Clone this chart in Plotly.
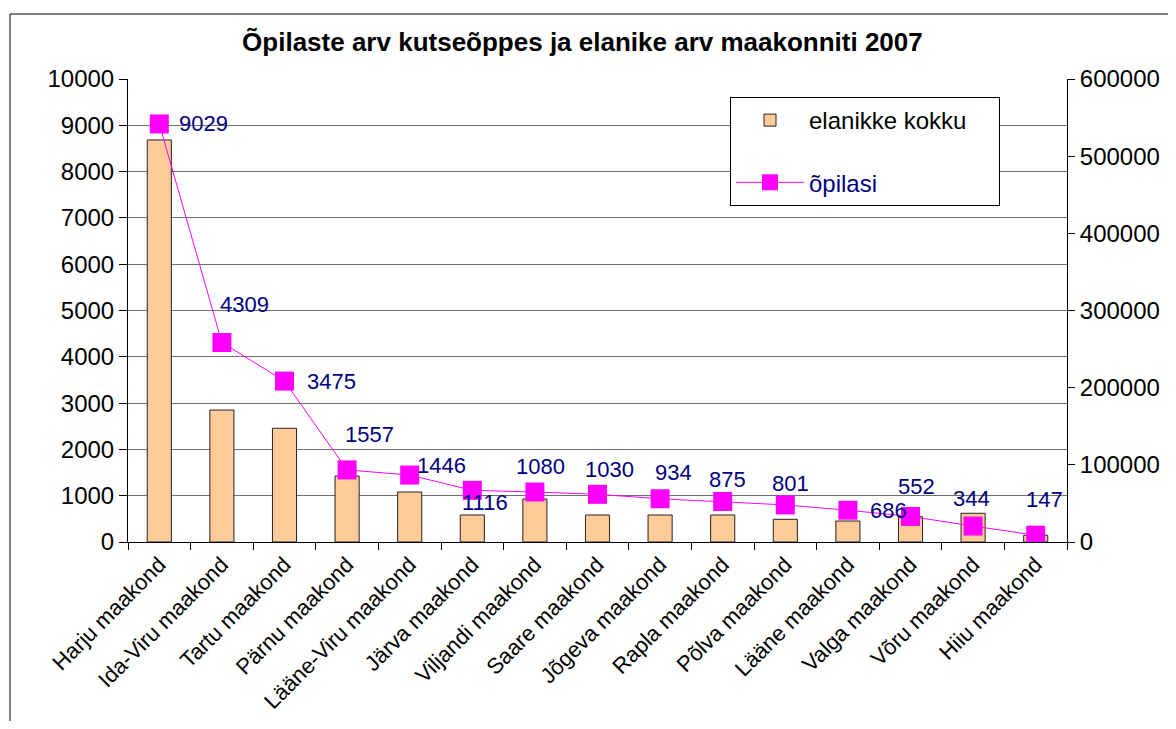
import plotly.graph_objects as go

counties = ["Harju maakond", "Ida-Viru maakond", "Tartu maakond", "Pärnu maakond",
            "Lääne-Viru maakond", "Järva maakond", "Viljandi maakond", "Saare maakond",
            "Jõgeva maakond", "Rapla maakond", "Põlva maakond", "Lääne maakond",
            "Valga maakond", "Võru maakond", "Hiiu maakond"]
residents = [521000, 171000, 147400, 85500, 64800, 35000, 55700, 35000,
             35000, 35000, 29400, 27200, 32800, 37200, 8700]
students = [9029, 4309, 3475, 1557, 1446, 1116, 1080, 1030, 934, 875, 801, 686, 552, 344, 147]

left_ticks = [0, 1000, 2000, 3000, 4000, 5000, 6000, 7000, 8000, 9000, 10000]
right_ticks = [0, 100000, 200000, 300000, 400000, 500000, 600000]

title = "Õpilaste arv kutseõppes ja elanike arv maakonniti 2007"

# label placement (xanchor, xshift, yshift) per point
label_pos = [("left", 18, 0), ("left", -4, 38), ("left", 20, 0), ("left", -4, 35),
             ("left", 5, 10), ("left", -12, -12), ("center", 6, 26), ("center", 12, 25),
             ("center", 13, 26), ("center", 5, 22), ("center", 5, 21), ("left", 20, 0),
             ("center", 6, 30), ("center", -2, 28), ("center", 9, 36)]

FONT = "Liberation Sans, Arial, sans-serif"
NAVY = "#000080"

fig = go.Figure()
fig.add_trace(go.Bar(
    x=counties, y=residents, name="elanikke kokku\u00a0\u00a0\u00a0\u00a0", yaxis="y",
    marker=dict(color="#FFCC99", line=dict(color="#222222", width=1)),
    legendgroup="a", hoverinfo="x+y"))
fig.add_trace(go.Scatter(
    x=counties, y=students, name="<span style='color:#000080'>õpilasi</span>", yaxis="y2",
    mode="lines+markers",
    line=dict(color="#FF00FF", width=1),
    marker=dict(symbol="square", size=19, color="#FF00FF"),
    legendgroup="b"))

for c, v, (xa, xs, ys) in zip(counties, students, label_pos):
    fig.add_annotation(x=c, y=v, xref="x", yref="y2", text=str(v), showarrow=False,
                       xanchor=xa, yanchor="middle", xshift=xs, yshift=ys,
                       font=dict(family=FONT, size=22, color=NAVY))

# page has an 8px body margin; work in page pixels and convert
OFF = 8
W, H = 1176 - 2 * OFF, 729 - 2 * OFF
L, R, T, B = 128 - OFF, 1067 - OFF, 79 - OFF, 542 - OFF
pw, ph = R - L, B - T

def px(x):
    return (x - OFF - L) / pw

def py(y):
    return (B - (y - OFF)) / ph

fig.add_shape(type="rect", xref="paper", yref="paper",
              x0=px(10), x1=px(1200), y0=py(760), y1=py(14),
              line=dict(color="#000000", width=1), fillcolor="rgba(0,0,0,0)", layer="below")

fig.update_layout(
    width=W, height=H,
    margin=dict(l=L, r=W - R, t=T, b=H - B, autoexpand=False),
    paper_bgcolor="white", plot_bgcolor="white",
    font=dict(family=FONT, size=22, color="black"),
    title=dict(text="<b>" + title + "</b>", x=px(593), xanchor="center",
               y=1 - (42 - OFF) / H, yanchor="middle",
               font=dict(family=FONT, size=26, color="black")),
    bargap=0.615,
    showlegend=True,
    legend=dict(x=px(730), y=py(97), xanchor="left", yanchor="top",
                bgcolor="white", bordercolor="#000000", borderwidth=1,
                tracegroupgap=28, font=dict(family=FONT, size=24, color="black"),
                itemwidth=68),
    xaxis=dict(type="category", showline=True, linecolor="black", linewidth=1,
               ticks="outside", ticklen=7, tickcolor="black", tickson="boundaries",
               tickangle=-45, tickfont=dict(family=FONT, size=22, color="black"),
               showgrid=False, range=[-0.5, len(counties) - 0.5]),
    yaxis=dict(side="right", range=[0, 600000], tickvals=right_ticks,
               ticktext=[str(t) for t in right_ticks],
               showline=True, linecolor="black", linewidth=1,
               ticks="outside", ticklen=7, tickcolor="black",
               showgrid=False, zeroline=False,
               tickfont=dict(family=FONT, size=24, color="black")),
    yaxis2=dict(side="left", overlaying="y", range=[0, 10000], tickvals=left_ticks,
                ticktext=[str(t) for t in left_ticks],
                showline=True, linecolor="black", linewidth=1,
                ticks="outside", ticklen=8, tickcolor="black",
                showgrid=True, gridcolor="#707070", gridwidth=1, zeroline=False,
                tickfont=dict(family=FONT, size=24, color="black")),
)

fig.write_html("out.html")
